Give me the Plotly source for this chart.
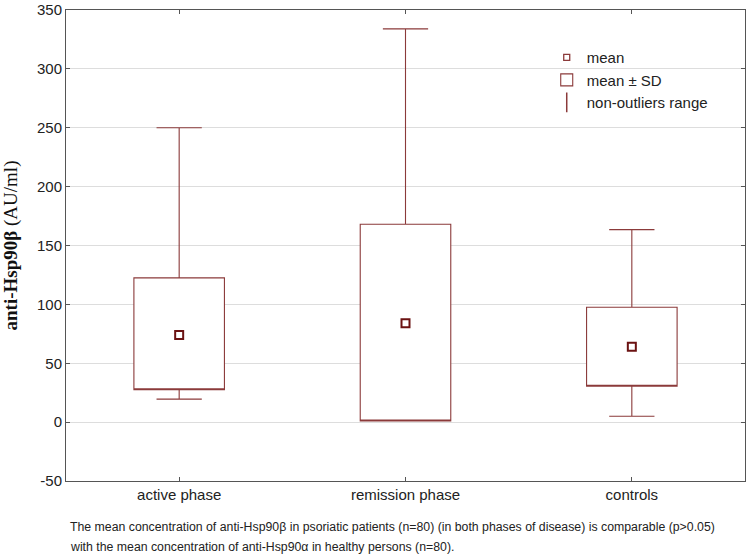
import plotly.graph_objects as go

# values (AU/ml)
groups = ["active phase", "remission phase", "controls"]
means = [74, 84, 64]
sd_low = [27.5, 1, 30.5]       # mean - SD
sd_high = [122.5, 168, 97.5]   # mean + SD
range_low = [19.5, 1, 5]       # non-outliers min
range_high = [250, 334, 163.5] # non-outliers max
y_ticks = [-50, 0, 50, 100, 150, 200, 250, 300, 350]
y_tick_text = ["-50", "0", "50", "100", "150", "200", "250", "300", "350"]

caption = [
    "The mean concentration of anti-Hsp90\u03b2 in psoriatic patients (n=80) "
    "(in both phases of disease) is comparable (p>0.05)",
    "with the mean concentration of anti-Hsp90\u03b1 in healthy persons (n=80).",
]

line_col = "#8B3A3A"
mark_col = "#6B1212"

fig = go.Figure()

# mean +/- SD box with non-outlier whiskers (median pinned to box bottom so no inner line)
fig.add_trace(go.Box(
    x=groups,
    q1=sd_low,
    median=sd_low,
    q3=sd_high,
    lowerfence=range_low,
    upperfence=range_high,
    width=0.4,
    whiskerwidth=0.5,
    fillcolor="white",
    line=dict(color=line_col, width=1.1),
    boxpoints=False,
    name="mean \u00b1 SD",
    legendrank=2,
))

fig.add_trace(go.Scatter(
    x=groups,
    y=means,
    mode="markers",
    marker=dict(symbol="square", size=8, color="white",
                line=dict(color=mark_col, width=2)),
    name="mean",
    showlegend=False,
))

# legend-only entries (smaller mean icon, whisker icon)
fig.add_trace(go.Scatter(
    x=[None], y=[None],
    mode="markers",
    marker=dict(symbol="square", size=6, color="white",
                line=dict(color=line_col, width=1.3)),
    name="mean",
    legendrank=1,
))
fig.add_trace(go.Scatter(
    x=[None], y=[None],
    mode="markers",
    marker=dict(symbol="line-ns-open", size=14, color=line_col,
                line=dict(color=line_col, width=1.5)),
    name="non-outliers range",
    legendrank=3,
))

fig.update_layout(
    width=750, height=557,
    margin=dict(l=66, r=5, t=10, b=76),
    plot_bgcolor="white",
    paper_bgcolor="white",
    font=dict(family="Liberation Sans, Arial", size=15, color="#222"),
    showlegend=True,
    legend=dict(x=0.708, y=0.934, xanchor="left", yanchor="top",
                bgcolor="rgba(0,0,0,0)", font=dict(size=15),
                itemwidth=30, tracegroupgap=0),
    annotations=[
        dict(text=caption[0], xref="paper", yref="paper", x=0.003, y=-0.098,
             xanchor="left", yanchor="middle", showarrow=False,
             font=dict(size=12.3, color="#222")),
        dict(text=caption[1], xref="paper", yref="paper", x=0.003, y=-0.140,
             xanchor="left", yanchor="middle", showarrow=False,
             font=dict(size=12.3, color="#222")),
    ],
)

fig.update_xaxes(
    range=[-0.5, 2.5],
    automargin=False,
    showline=True, mirror="ticks", linecolor="#555", linewidth=1,
    ticks="inside", ticklen=4, tickcolor="#555",
    showgrid=False,
)
fig.update_yaxes(
    range=[-50, 350],
    tickvals=y_ticks,
    ticktext=y_tick_text,
    automargin=False,
    showline=True, mirror="ticks", linecolor="#555", linewidth=1,
    ticks="inside", ticklen=4, tickcolor="#555",
    showgrid=True, gridcolor="#dddddd", gridwidth=1,
    zeroline=False,
    title=dict(text="<b>anti-Hsp90\u03b2</b> (AU/ml)",
               font=dict(family="Liberation Serif, Times New Roman", size=19, color="#111")),
)

# drop the browser's default body margin so the figure sits at the page corner
fig.write_html("out.html", config={"displayModeBar": False},
               post_script="document.body.style.margin='0';")
